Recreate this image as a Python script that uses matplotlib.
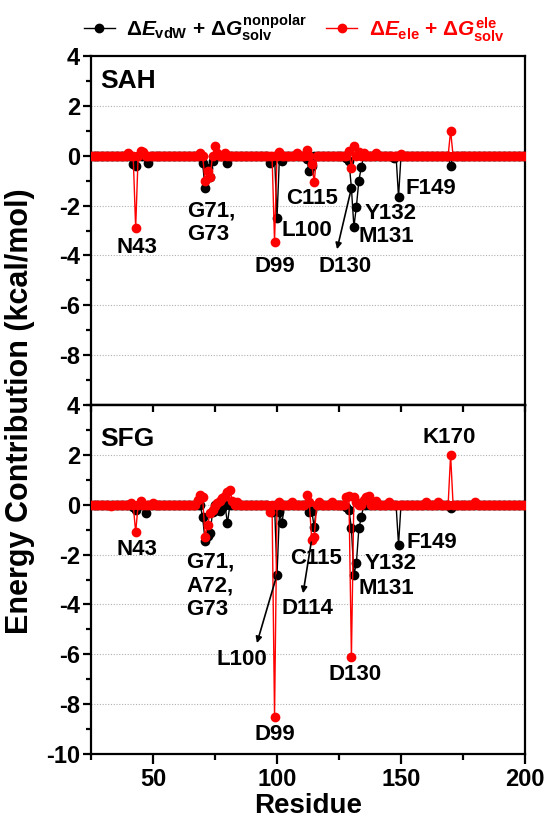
import numpy as np
import matplotlib
matplotlib.use("Agg")
import matplotlib.pyplot as plt
from matplotlib.ticker import MultipleLocator
from matplotlib.lines import Line2D

plt.rcParams["font.family"] = ["Liberation Sans", "DejaVu Sans"]
plt.rcParams["font.weight"] = "bold"
plt.rcParams["axes.unicode_minus"] = False
plt.rcParams["mathtext.fontset"] = "custom"
plt.rcParams["mathtext.rm"] = "Liberation Sans:bold"
plt.rcParams["mathtext.bf"] = "Liberation Sans:bold"
plt.rcParams["mathtext.it"] = "Liberation Sans:bold:italic"

# residue axis
residues = np.arange(25, 201)

# SAH: non-zero per-residue contributions (kcal/mol), everything else ~0
sah_np_res = [42, 43, 48, 70, 71, 72, 73, 74, 80, 97, 98, 100, 102, 112, 113, 114,
              128, 129, 130, 131, 132, 133, 134, 147, 149, 170]
sah_np_val = [-0.35, -0.4, -0.3, -0.3, -1.3, -0.5, -0.85, -0.2, -0.3, -0.3, -0.2, -2.5,
              -0.2, -0.15, -0.6, -0.4, -0.1, -0.2, -1.3, -2.85, -2.05, -1.0, -0.45,
              -0.1, -1.65, -0.4]
sah_el_res = [40, 43, 45, 46, 69, 71, 72, 73, 75, 76, 79, 99, 101, 108, 112, 114, 115,
              129, 130, 131, 133, 135, 140, 150, 170]
sah_el_val = [0.1, -2.9, 0.2, 0.15, 0.1, -1.0, -0.6, -0.85, 0.4, 0.1, 0.1, -3.45, 0.15,
              0.1, 0.25, -0.35, -1.05, 0.2, -0.5, 0.4, 0.15, 0.1, 0.1, 0.05, 1.0]

# SFG
sfg_np_res = [42, 43, 47, 70, 71, 72, 73, 74, 76, 77, 78, 80, 97, 98, 100, 101, 102,
              113, 114, 115, 128, 129, 130, 131, 132, 133, 134, 149, 170]
sfg_np_val = [-0.1, -0.2, -0.35, -0.5, -1.45, -1.25, -1.15, -0.3, -0.2, -0.25, -0.15,
              -0.75, -0.1, -0.3, -2.8, -0.3, -0.75, -0.3, -0.25, -0.9, -0.1, -0.2,
              -0.95, -2.8, -2.35, -0.95, -0.5, -1.6, -0.15]
sfg_el_res = [33, 41, 43, 45, 50, 68, 69, 70, 71, 72, 73, 74, 75, 76, 77, 78, 79, 80, 81,
              82, 84, 97, 99, 101, 106, 112, 113, 114, 115, 117, 122, 128, 129, 130,
              131, 132, 135, 136, 137, 140, 145, 160, 165, 170, 180]
sfg_el_val = [-0.05, 0.05, -1.1, 0.15, 0.05, 0.2, 0.4, 0.3, -1.3, -0.8, -0.35, -0.2,
              -0.05, 0.05, 0.15, 0.25, 0.35, 0.5, 0.6, 0.15, 0.1, -0.3, -8.5, 0.1, 0.1,
              0.4, 0.1, -1.4, -1.3, 0.1, 0.1, 0.3, 0.35, -6.1, 0.3, 0.1, 0.2, 0.3, 0.35,
              0.15, 0.1, 0.1, 0.1, 2.0, 0.1]


def full_series(res, val):
    s = np.zeros(len(residues))
    for r, v in zip(res, val):
        s[r - residues[0]] = v
    return s


BLACK = "#000000"
RED = "#ff0000"
GRID = "#b0b0b0"
MS = 6

fig = plt.figure(figsize=(5.49, 8.18), dpi=100)
left, width = 0.1658, 0.7905
ax_top = fig.add_axes([left, 0.5049, width, 0.4266])
ax_bot = fig.add_axes([left, 0.0782, width, 0.4267], sharex=ax_top)

panels = [
    (ax_top, "SAH", sah_np_res, sah_np_val, sah_el_res, sah_el_val),
    (ax_bot, "SFG", sfg_np_res, sfg_np_val, sfg_el_res, sfg_el_val),
]

for ax, name, npr, npv, elr, elv in panels:
    ax.plot(residues, full_series(npr, npv), color=BLACK, lw=1.0, marker="o",
            ms=MS, mec=BLACK, zorder=3)
    ax.plot(residues, full_series(elr, elv), color=RED, lw=1.0, marker="o",
            ms=MS, mec=RED, zorder=4)
    ax.set_xlim(25, 200)
    ax.set_ylim(-10, 4)
    ax.yaxis.set_major_locator(MultipleLocator(2))
    ax.yaxis.set_minor_locator(MultipleLocator(1))
    ax.xaxis.set_major_locator(MultipleLocator(50))
    ax.xaxis.set_minor_locator(MultipleLocator(25))
    for y in range(-8, 4, 2):
        ax.axhline(y, color=GRID, lw=0.8, ls=(0, (1, 1.5)), zorder=1)
    for sp in ax.spines.values():
        sp.set_linewidth(1.6)
    ax.tick_params(axis="y", which="major", direction="out", length=6, width=1.6,
                   labelsize=17, pad=2)
    ax.tick_params(axis="y", which="minor", direction="out", length=3.5, width=1.6)
    ax.text(28.6, 3.0 if name == "SAH" else 2.65, name, fontsize=19,
            fontweight="bold", ha="left", va="center")

# top panel: no x ticks, hide the -10 label
ax_top.tick_params(axis="x", which="both", bottom=False, labelbottom=False)
ax_top.set_yticks([4, 2, 0, -2, -4, -6, -8])

# bottom panel: inward ticks at the top edge, outward at the bottom
ax_bot.tick_params(axis="x", which="major", direction="out", length=7, width=1.6,
                   labelsize=17, top=False, pad=3)
ax_bot.tick_params(axis="x", which="minor", direction="out", length=4, width=1.6,
                   top=False)
ax_sec = ax_bot.secondary_xaxis("top")
ax_sec.xaxis.set_major_locator(MultipleLocator(25))
ax_sec.tick_params(axis="x", direction="in", length=5, width=1.6, labeltop=False)
ax_sec.spines["top"].set_linewidth(1.6)

ax_bot.set_xlabel("Residue", fontsize=20, fontweight="bold", labelpad=1.5)
fig.text(0.036, 0.497, "Energy Contribution (kcal/mol)", rotation=90, fontsize=22,
         fontweight="bold", ha="center", va="center")

lab = dict(fontsize=16, fontweight="bold", color=BLACK)

# SAH annotations
ax_top.text(43.5, -3.7, "N43", ha="center", va="center", **lab)
ax_top.text(63.7, -2.7, "G71,\nG73", ha="left", va="center", linespacing=1.15, **lab)
ax_top.text(99, -4.45, "D99", ha="center", va="center", **lab)
ax_top.text(102, -3.0, "L100", ha="left", va="center", **lab)
ax_top.text(114, -1.7, "C115", ha="center", va="center", **lab)
ax_top.text(127.5, -4.45, "D130", ha="center", va="center", **lab)
ax_top.text(133, -3.25, "M131", ha="left", va="center", **lab)
ax_top.text(135.5, -2.3, "Y132", ha="left", va="center", **lab)
ax_top.text(152, -1.3, "F149", ha="left", va="center", **lab)
arrow = dict(arrowstyle="-|>", color=BLACK, lw=1.2, mutation_scale=9, shrinkA=0,
             shrinkB=0)
ax_top.annotate("", xy=(124.2, -3.75), xytext=(130, -1.3), arrowprops=arrow, zorder=5)

# SFG annotations
ax_bot.text(43.5, -1.8, "N43", ha="center", va="center", **lab)
ax_bot.text(63.3, -3.25, "G71,\nA72,\nG73", ha="left", va="center", linespacing=1.15,
            **lab)
ax_bot.text(91, -9.2, "D99", ha="left", va="center", **lab)
ax_bot.text(75.4, -6.2, "L100", ha="left", va="center", **lab)
ax_bot.text(102, -4.15, "D114", ha="left", va="center", **lab)
ax_bot.text(105.2, -2.15, "C115", ha="left", va="center", **lab)
ax_bot.text(120.6, -6.8, "D130", ha="left", va="center", **lab)
ax_bot.text(132.7, -3.35, "M131", ha="left", va="center", **lab)
ax_bot.text(135.5, -2.35, "Y132", ha="left", va="center", **lab)
ax_bot.text(152.4, -1.5, "F149", ha="left", va="center", **lab)
ax_bot.text(169.3, 2.7, "K170", ha="center", va="center", **lab)
ax_bot.annotate("", xy=(91.9, -5.55), xytext=(100, -2.8), arrowprops=arrow, zorder=5)
ax_bot.annotate("", xy=(110.5, -3.55), xytext=(113.8, -1.5), arrowprops=arrow,
                zorder=5)

handles = [
    Line2D([], [], color=BLACK, lw=1.0, marker="o", ms=MS),
    Line2D([], [], color=RED, lw=1.0, marker="o", ms=MS),
]
labels = [r"$\Delta E_{\mathrm{vdW}}$ + $\Delta G_{\mathrm{solv}}^{\mathrm{nonpolar}}$",
          r"$\Delta E_{\mathrm{ele}}$ + $\Delta G_{\mathrm{solv}}^{\mathrm{ele}}$"]
leg = fig.legend(handles, labels, loc="center", bbox_to_anchor=(0.536, 0.966), ncol=2,
                 frameon=False, fontsize=15, handlelength=1.5, handletextpad=0.55,
                 columnspacing=0.9)
leg.get_texts()[1].set_color(RED)

fig.savefig("out.png", dpi=100)
